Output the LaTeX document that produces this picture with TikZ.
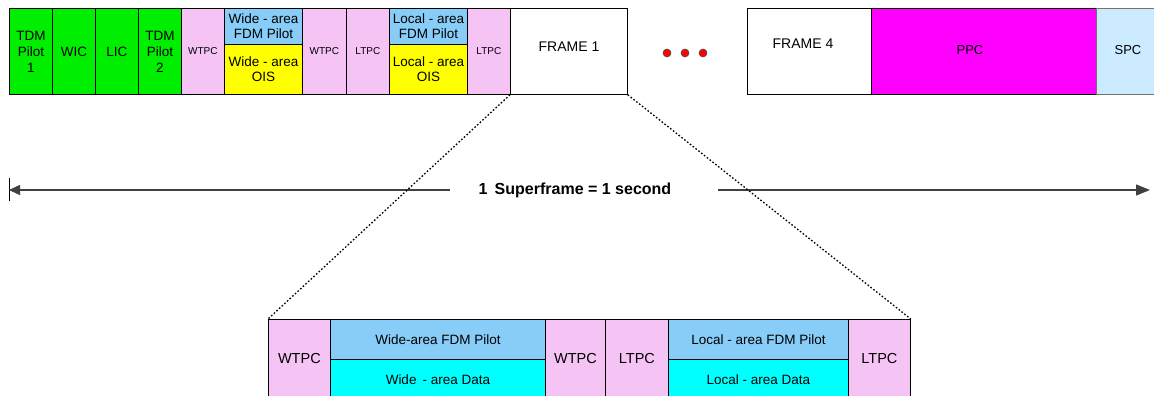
\documentclass[tikz,border=0pt]{standalone}
\usepackage{fontspec}
\setmainfont{Liberation Sans}
\usetikzlibrary{arrows.meta}
\definecolor{cgreen}{HTML}{00EE00}
\definecolor{cpink}{HTML}{F5C4F5}
\definecolor{cblue}{HTML}{88CDF8}
\definecolor{cyel}{HTML}{FFFF00}
\definecolor{cmag}{HTML}{FF00FF}
\definecolor{ccyan}{HTML}{00FFFF}
\definecolor{cspc}{HTML}{CCEBFF}
\definecolor{cline}{HTML}{404040}
\begin{document}
\begin{tikzpicture}[x=1pt,y=-1pt,
  box/.style={draw=black, line width=0.8pt, inner sep=0pt, anchor=north west, align=center, font=\fontsize{13.5}{16}\selectfont},
  small/.style={font=\fontsize{10}{12}\selectfont},
  mid/.style={font=\fontsize{13.5}{15}\selectfont},
  lbl/.style={inner sep=0pt, align=center, font=\fontsize{14}{16}\selectfont},
  blbl/.style={font=\fontsize{13.5}{15}\selectfont},
  bpink/.style={font=\fontsize{14.5}{16}\selectfont},
  dot/.style={circle, fill=red, draw=black!70, line width=0.6pt, minimum size=8pt, inner sep=0pt},
  conn/.style={draw=black, line width=1.3pt, dash pattern=on 1.6pt off 2pt},
  axis/.style={draw=cline, line width=1.3pt}]
\useasboundingbox (0,0) rectangle (1154,396);
\clip (0,0) rectangle (1154,396);
% top row
\node[box, fill=cgreen, minimum width=43pt, minimum height=86pt] (tdm1) at (9,8) {TDM\\Pilot\\1};
\node[box, fill=cgreen, minimum width=43pt, minimum height=86pt] (wic) at (52,8) {WIC};
\node[box, fill=cgreen, minimum width=43pt, minimum height=86pt] (lic) at (95,8) {LIC};
\node[box, fill=cgreen, minimum width=43pt, minimum height=86pt] (tdm2) at (138,8) {TDM\\Pilot\\2};
\node[box, small, fill=cpink, minimum width=43pt, minimum height=86pt] (wt1) at (181,8) {WTPC};
\node[box, mid, fill=cblue, minimum width=78pt, minimum height=36pt] (wfdm) at (224,8) {Wide - area\\FDM Pilot};
\node[box, mid, fill=cyel, minimum width=78pt, minimum height=50pt] (wois) at (224,44) {Wide - area\\OIS};
\node[box, small, fill=cpink, minimum width=44pt, minimum height=86pt] (wt2) at (302,8) {WTPC};
\node[box, small, fill=cpink, minimum width=43pt, minimum height=86pt] (lt1) at (346,8) {LTPC};
\node[box, mid, fill=cblue, minimum width=78pt, minimum height=36pt] (lfdm) at (389,8) {Local - area\\FDM Pilot};
\node[box, mid, fill=cyel, minimum width=78pt, minimum height=50pt] (lois) at (389,44) {Local - area\\OIS};
\node[box, small, fill=cpink, minimum width=43pt, minimum height=86pt] (lt2) at (467,8) {LTPC};
\node[box, fill=white, minimum width=117pt, minimum height=86pt] (f1) at (510,8) {};
\node[lbl] (f1t) at (569,47) {FRAME 1};
\node[dot] (d1) at (667,53) {};
\node[dot] (d2) at (685,53) {};
\node[dot] (d3) at (703,53) {};
\node[box, fill=white, minimum width=124pt, minimum height=86pt] (f4) at (747,8) {};
\node[lbl] (f4t) at (803,44) {FRAME 4};
\node[box, fill=cmag, minimum width=225pt, minimum height=86pt] (ppc) at (871,8) {};
\node[lbl, font=\fontsize{13}{15}\selectfont] (ppct) at (970,50) {PPC};
\node[box, draw=black!55, fill=cspc, minimum width=80pt, minimum height=86pt] (spc) at (1096,8) {};
\node[lbl, font=\fontsize{13}{15}\selectfont] (spct) at (1128,50) {SPC};
% superframe axis
\coordinate (aL) at (9,190);
\coordinate (aR) at (1150,190);
\coordinate (l1) at (450,190);
\coordinate (r1) at (718,190);
\coordinate (bt) at (9,178);
\coordinate (bb) at (9,201);
\draw[black, line width=1pt] (bt) -- (bb);
\draw[axis, -{Triangle[length=11pt,width=10pt]}] (l1) -- (aL);
\draw[axis, -{Triangle[length=14pt,width=11pt]}] (r1) -- (aR);
\node[inner sep=0pt, font=\bfseries\fontsize{16}{18}\selectfont] (sf) at (575,190) {1\, Superframe = 1 second};
% bottom row
\node[box, bpink, fill=cpink, minimum width=62pt, minimum height=78pt] (bw1) at (268,319) {WTPC};
\node[box, blbl, fill=cblue, minimum width=215pt, minimum height=40pt] (bwf) at (330,319) {Wide-area FDM Pilot};
\node[box, blbl, fill=ccyan, minimum width=215pt, minimum height=40pt] (bwd) at (330,359) {Wide\, - area Data};
\node[box, bpink, fill=cpink, minimum width=60pt, minimum height=78pt] (bw2) at (545,319) {WTPC};
\node[box, bpink, fill=cpink, minimum width=63pt, minimum height=78pt] (bl1) at (605,319) {LTPC};
\node[box, blbl, fill=cblue, minimum width=180pt, minimum height=40pt] (blf) at (668,319) {Local - area FDM Pilot};
\node[box, blbl, fill=ccyan, minimum width=180pt, minimum height=40pt] (bld) at (668,359) {Local - area Data};
\node[box, bpink, fill=cpink, minimum width=62pt, minimum height=78pt] (bl2) at (848,319) {LTPC};
% zoom lines
\draw[conn] (f1.south west) -- (bw1.north west);
\draw[conn] (f1.south east) -- (bl2.north east);
\end{tikzpicture}
\end{document}
